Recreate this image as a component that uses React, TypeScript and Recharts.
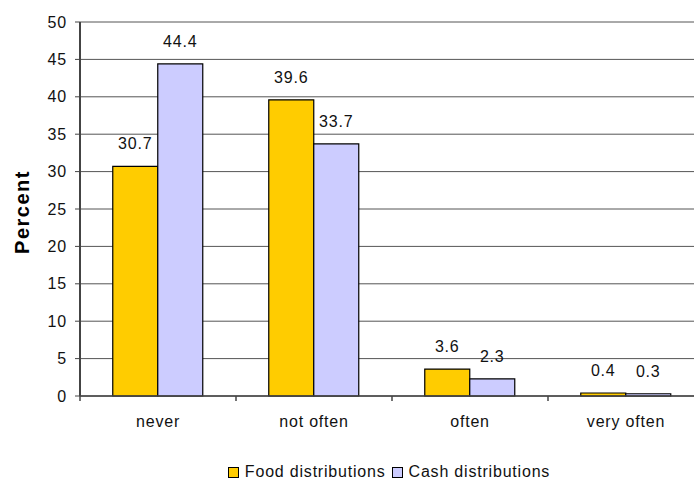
import React from 'react';
import { BarChart, Bar, XAxis, YAxis, CartesianGrid, Legend, LabelList } from 'recharts';

// Frequency of receiving distributions, in percent of respondents
const categories = ['never', 'not often', 'often', 'very often'];
const foodValues = [30.7, 39.6, 3.6, 0.4];
const cashValues = [44.4, 33.7, 2.3, 0.3];
const yTicks = [0, 5, 10, 15, 20, 25, 30, 35, 40, 45, 50];

const seriesKeys = ['food', 'cash'];
const seriesNames = { food: 'Food distributions', cash: 'Cash distributions' };
const FOOD_COLOR = '#FFCC00';
const CASH_COLOR = '#CCCCFF';
const FONT = '"Liberation Sans", Arial, sans-serif';
const AXIS_COLOR = '#444';
const TEXT_STYLE = { fontFamily: FONT, fontSize: 16, fill: '#111', letterSpacing: 0.8 };

const data = categories.map((name, i) => ({
  name,
  food: foodValues[i],
  cash: cashValues[i],
}));

// Category label plus a short tick at the left boundary of each band
function CategoryTick(props: any) {
  const { x, y, payload } = props;
  const half = payload && payload.offset ? payload.offset : 0;
  return (
    <g>
      <line x1={x - half} x2={x - half} y1={y} y2={y + 5} stroke={AXIS_COLOR} strokeWidth={1.5} />
      <text x={x} y={y + 31} textAnchor="middle" {...TEXT_STYLE}>
        {payload.value}
      </text>
    </g>
  );
}

function PercentLabel(props: any) {
  const { viewBox } = props;
  const cx = viewBox.x + 22;
  const cy = viewBox.y + viewBox.height / 2 + 3;
  return (
    <text
      x={cx}
      y={cy}
      transform={`rotate(-90, ${cx}, ${cy})`}
      textAnchor="middle"
      dominantBaseline="central"
      fontFamily={FONT}
      fontSize={20}
      fontWeight="bold"
      letterSpacing={1.5}
      fill="#000"
    >
      Percent
    </text>
  );
}

function LegendContent(props: any) {
  const payload = [...(props.payload || [])].sort(
    (a: any, b: any) => seriesKeys.indexOf(a.dataKey) - seriesKeys.indexOf(b.dataKey)
  );
  return (
    <div
      style={{
        display: 'flex',
        justifyContent: 'center',
        alignItems: 'center',
        fontFamily: FONT,
        fontSize: 16,
        letterSpacing: 0.8,
        color: '#111',
        height: 22,
      }}
    >
      {payload.map((entry: any) => (
        <span key={entry.value} style={{ display: 'flex', alignItems: 'center', marginRight: 6 }}>
          <span
            style={{
              display: 'inline-block',
              width: 9,
              height: 9,
              background: entry.color,
              border: '1px solid #000',
              marginRight: 6,
            }}
          />
          {entry.value}
        </span>
      ))}
    </div>
  );
}

export default function App() {
  return (
    <div
      style={{
        position: 'fixed',
        left: 0,
        top: 0,
        width: 694,
        height: 483,
        overflow: 'hidden',
        background: '#fff',
      }}
    >
      <BarChart
        width={720}
        height={483}
        data={data}
        margin={{ top: 22, right: 16, bottom: 0, left: 0 }}
        barCategoryGap="21%"
        barGap={0}
      >
        <CartesianGrid vertical={false} stroke="#555" strokeWidth={1} />
        <XAxis
          dataKey="name"
          height={65}
          tickSize={0}
          tickMargin={0}
          tickLine={false}
          axisLine={{ stroke: AXIS_COLOR, strokeWidth: 1.5 }}
          tick={<CategoryTick />}
          interval={0}
        />
        <YAxis
          width={80}
          domain={[0, 50]}
          ticks={yTicks}
          interval={0}
          tickSize={5}
          tickMargin={8}
          axisLine={{ stroke: AXIS_COLOR, strokeWidth: 2 }}
          tickLine={{ stroke: AXIS_COLOR }}
          tick={TEXT_STYLE}
          label={<PercentLabel />}
        />
        <Legend
          verticalAlign="bottom"
          height={22}
          wrapperStyle={{ left: 80, width: 624 }}
          content={<LegendContent />}
        />
        <Bar
          dataKey="food"
          name={seriesNames.food}
          fill={FOOD_COLOR}
          stroke="#000"
          strokeWidth={1.2}
          isAnimationActive={false}
        >
          <LabelList dataKey="food" position="top" offset={17} style={TEXT_STYLE} />
        </Bar>
        <Bar
          dataKey="cash"
          name={seriesNames.cash}
          fill={CASH_COLOR}
          stroke="#000"
          strokeWidth={1.2}
          isAnimationActive={false}
        >
          <LabelList dataKey="cash" position="top" offset={17} style={TEXT_STYLE} />
        </Bar>
      </BarChart>
    </div>
  );
}
